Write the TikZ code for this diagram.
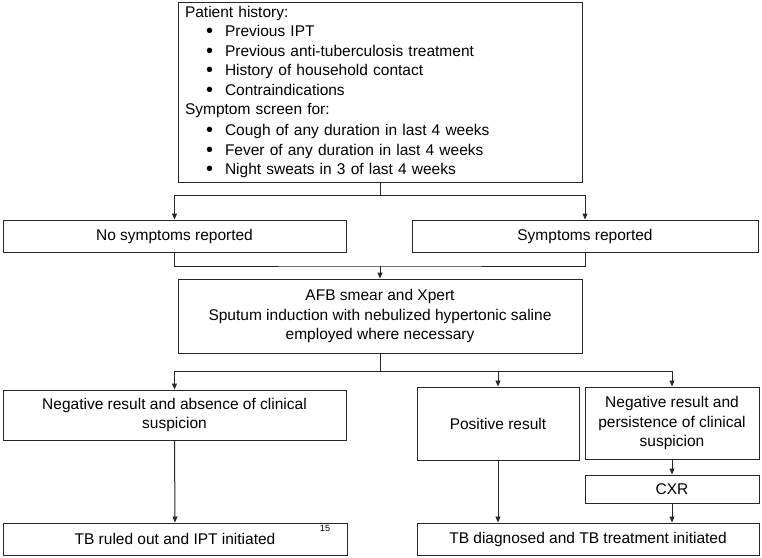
\documentclass[tikz,border=0pt]{standalone}
\usepackage{fontspec}
\setmainfont{Liberation Sans}
\usetikzlibrary{arrows.meta}
\begin{document}
\begin{tikzpicture}[x=1pt, y={(0pt,-1pt)},
  every node/.style={font=\fontsize{15.5}{19.5}\selectfont, text=black},
  box/.style={draw=black!85, line width=1pt, inner sep=0pt, align=center},
  conn/.style={draw=black!85, line width=1pt},
  arr/.style={conn, -{Triangle[length=6pt,width=5pt]}}]
\useasboundingbox (0,0) rectangle (762,557);
\newcommand{\itm}[1]{\makebox[21pt][l]{}\makebox[19pt][l]{{\fontsize{20}{19.5}\selectfont\raisebox{-1.2pt}{\textbullet}}}#1}
\node[box, minimum width=404pt, minimum height=180pt, text width=390pt, align=left, inner xsep=7pt] (top) at (380,92)
{Patient history:\\
\itm{Previous IPT}\\
\itm{Previous anti-tuberculosis treatment}\\
\itm{History of household contact}\\
\itm{Contraindications}\\
Symptom screen for:\\[1.5pt]
\itm{Cough of any duration in last 4 weeks}\\
\itm{Fever of any duration in last 4 weeks}\\
\itm{Night sweats in 3 of last 4 weeks}};
\node[box, minimum width=343pt, minimum height=32pt] (nosym) at (174.5,236) {No symptoms reported};
\node[box, minimum width=346pt, minimum height=32pt] (sym) at (585,236) {Symptoms reported};
\node[box, minimum width=404pt, minimum height=74pt] (afb) at (380,316)
{AFB smear and Xpert\\Sputum induction with nebulized hypertonic saline\\employed where necessary};
\node[box, minimum width=343pt, minimum height=50pt] (negabs) at (174.5,415)
{Negative result and absence of clinical\\suspicion};
\node[box, minimum width=162pt, minimum height=73pt] (pos) at (498,423.5) {Positive result};
\node[box, minimum width=174pt, minimum height=72pt] (negpers) at (672,423)
{Negative result and\\persistence of clinical\\suspicion};
\node[box, minimum width=174pt, minimum height=28pt] (cxr) at (672,489) {CXR};
\node[box, minimum width=344pt, minimum height=32pt] (ruled) at (175,539) {TB ruled out and IPT initiated};
\node[box, minimum width=342pt, minimum height=32pt] (diag) at (588,539) {TB diagnosed and TB treatment initiated};
\node[font=\fontsize{9}{10}\selectfont, inner sep=0pt] (pg) at (325,528) {15};
\coordinate (j1) at (380,195);
\coordinate (j2) at (380,266);
\coordinate (j3) at (380,371);
\draw[conn] (top.south) -- (j1);
\draw[arr] (j1) -| (nosym.north);
\draw[arr] (j1) -| (sym.north);
\draw[conn] (nosym.south) |- (j2) -| (sym.south);
\draw[arr] (j2) -- (afb.north);
\draw[conn] (afb.south) -- (j3);
\draw[arr] (j3) -| (negabs.north);
\draw[arr] (j3) -| (pos.north);
\draw[arr] (j3) -| (negpers.north);
\draw[arr] (negabs.south) -- (ruled.north);
\draw[arr] (pos.south) -- (pos.south |- diag.north);
\draw[arr] (negpers.south) -- (cxr.north);
\draw[arr] (cxr.south) -- (cxr.south |- diag.north);
\end{tikzpicture}
\end{document}
